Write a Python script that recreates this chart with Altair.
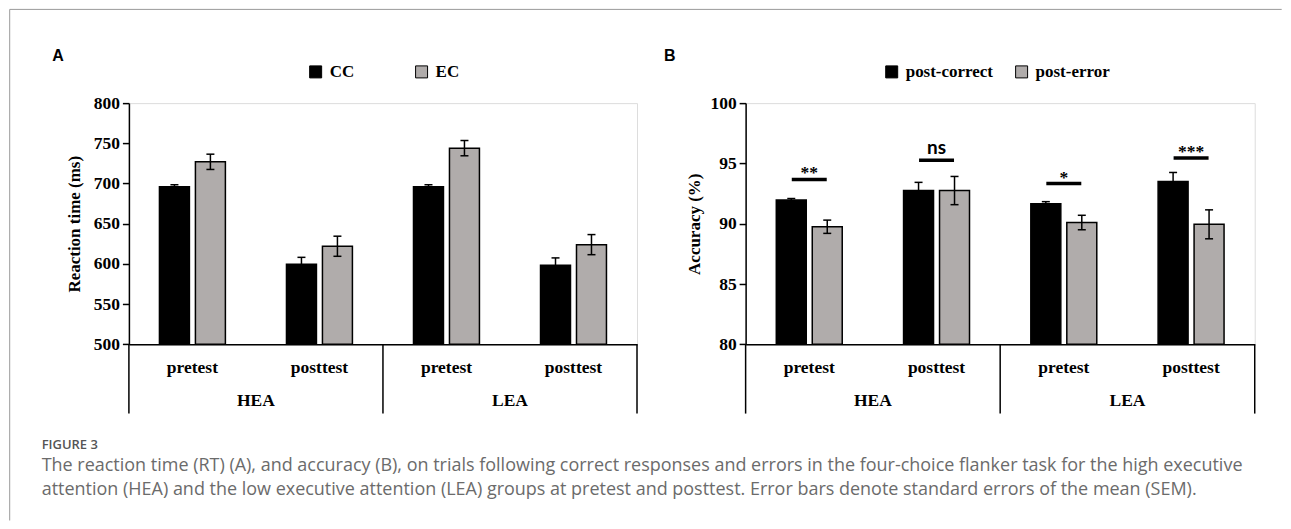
import altair as alt
import pandas as pd

# ---------------- data ----------------
categories = ["HEA pretest", "HEA posttest", "LEA pretest", "LEA posttest"]
groups = ["HEA", "LEA"]
group_first = ["HEA pretest", "LEA pretest"]

rt_series = ["CC", "EC"]
rt_cc = [696, 599.5, 696, 598.5]
rt_cc_se = [2.5, 8.7, 2.5, 9.0]
rt_ec = [727, 622, 744, 624]
rt_ec_se = [9.5, 12.5, 9.5, 12.5]
rt_ticks = [500, 550, 600, 650, 700, 750, 800]

acc_series = ["post-correct", "post-error"]
acc_pc = [91.96, 92.75, 91.65, 93.5]
acc_pc_se = [0.13, 0.68, 0.18, 0.75]
acc_pe = [89.75, 92.75, 90.1, 89.95]
acc_pe_se = [0.55, 1.17, 0.6, 1.2]
acc_ticks = [80, 85, 90, 95, 100]

sig_text = ["**", "ns", "*", "***"]
sig_level = [93.67, 95.27, 93.33, 95.46]

caption_head = "FIGURE 3"
caption_lines = [
    "The reaction time (RT) (A), and accuracy (B), on trials following correct responses and errors in the four-choice flanker task for the high executive",
    "attention (HEA) and the low executive attention (LEA) groups at pretest and posttest. Error bars denote standard errors of the mean (SEM).",
]

SERIF = "Liberation Serif"
GRAY = "#b0acab"
H = 241.4
BAR_W = 30
SHIFT = [-18, 18]   # pixel shift of the two series inside each category band


def long_df(series, a, a_se, b, b_se):
    rows = []
    for vals, ses, s in ((a, a_se, series[0]), (b, b_se, series[1])):
        for c, v, e in zip(categories, vals, ses):
            rows.append({"category": c, "series": s, "value": v, "lo": v - e, "hi": v + e})
    return pd.DataFrame(rows)


def xenc(band=None):
    kw = {}
    if band is not None:
        kw["bandPosition"] = band
    return alt.X(
        "category:N",
        sort=categories,
        scale=alt.Scale(domain=categories, paddingInner=0, paddingOuter=0),
        axis=alt.Axis(
            title=None, ticks=False, labelAngle=0,
            labelExpr="split(datum.label, ' ')[1]",
            labelFont=SERIF, labelFontSize=17.5, labelFontWeight="bold",
            labelColor="black", labelPadding=28, labelBaseline="alphabetic",
            domainColor="black", domainWidth=1.5,
        ),
        **kw,
    )


def letter_mark(letter, dx):
    return alt.Chart(pd.DataFrame({"t": [letter]})).mark_text(
        font="Liberation Sans", fontSize=16, fontWeight="bold", color="black",
        align="center", baseline="alphabetic",
    ).encode(x=alt.value(dx), y=alt.value(59.7 - 102.3), text="t:N")


def panel(df, series, ydomain, yticks, ytitle, letter, width, letter_x,
          legend_x, legend_pad, title_x, extra=None):
    yscale = alt.Scale(domain=ydomain, nice=False, zero=False)
    yaxis = alt.Axis(
        values=yticks, title=ytitle, grid=False,
        labelFont=SERIF, labelFontSize=17.5, labelFontWeight="bold", labelColor="black",
        labelPadding=3, tickSize=6.5, tickColor="black", tickWidth=1.5,
        domainColor="black", domainWidth=1.5,
        titleFont=SERIF, titleFontSize=17, titleFontWeight="bold", titleColor="black",
        titleX=title_x, titleY=H / 2, titleAngle=270, titleAlign="center",
        titleBaseline="middle",
    )
    color = alt.Color(
        "series:N", sort=series,
        scale=alt.Scale(domain=series, range=["black", GRAY]),
        legend=alt.Legend(
            orient="none", legendX=legend_x, legendY=-40, direction="horizontal",
            title=None, symbolType="square", symbolSize=144, symbolOpacity=1,
            symbolStrokeColor="black", symbolStrokeWidth=1,
            labelFont=SERIF, labelFontSize=17, labelFontWeight="bold",
            labelColor="black", labelOffset=5.5, columnPadding=legend_pad,
        ),
    )
    layers = []
    for s, sh in zip(series, SHIFT):
        base = alt.Chart(df).transform_filter(alt.datum.series == s)
        layers.append(
            base.mark_bar(width=BAR_W, xOffset=sh, stroke="black", strokeWidth=1.5, opacity=1).encode(
                x=xenc(), y=alt.Y("value:Q", scale=yscale, axis=yaxis),
                y2=alt.datum(ydomain[0]), color=color,
            )
        )
        layers.append(
            base.mark_rule(xOffset=sh, color="black", strokeWidth=1.5).encode(
                x=xenc(), y=alt.Y("lo:Q", scale=yscale), y2="hi:Q"
            )
        )
        for fld in ("lo", "hi"):
            layers.append(
                base.mark_tick(xOffset=sh, color="black", thickness=1.5, size=8, opacity=1).encode(
                    x=xenc(), y=alt.Y(f"{fld}:Q", scale=yscale)
                )
            )
    div_left = alt.Chart(pd.DataFrame({"category": group_first})).mark_rule(
        color="black", strokeWidth=1.5
    ).encode(x=xenc(0), y=alt.value(H), y2=alt.value(H + 69.3))
    div_right = alt.Chart(pd.DataFrame({"category": [categories[-1]]})).mark_rule(
        color="black", strokeWidth=1.5
    ).encode(x=xenc(1), y=alt.value(H), y2=alt.value(H + 69.3))
    grp = alt.Chart(pd.DataFrame({"category": group_first, "group": groups})).mark_text(
        font=SERIF, fontSize=17.5, fontWeight="bold", color="black",
        baseline="alphabetic", align="center",
    ).encode(x=xenc(1), y=alt.value(H + 61.6), text="group:N")
    layers += [div_left, div_right, grp, letter_mark(letter, letter_x)]
    if extra:
        layers += extra
    return alt.layer(*layers).properties(width=width, height=H)


rt_df = long_df(rt_series, rt_cc, rt_cc_se, rt_ec, rt_ec_se)
acc_df = long_df(acc_series, acc_pc, acc_pc_se, acc_pe, acc_pe_se)

# frame + caption (drawn in panel A's coordinate space)
one = pd.DataFrame({"k": [0]})
frame_top = alt.Chart(one).mark_rule(color="#9a9a9a", strokeWidth=1).encode(
    x=alt.value(-119.3), x2=alt.value(1283 - 129.3), y=alt.value(-93.8)
)
frame_left = alt.Chart(one).mark_rule(color="#9a9a9a", strokeWidth=1).encode(
    x=alt.value(-119.3), y=alt.value(-93.8), y2=alt.value(520 - 102.3)
)
cap_head = alt.Chart(pd.DataFrame({"t": [caption_head]})).mark_text(
    font="Open Sans", fontSize=13, fontWeight=600, color="#555555",
    align="left", baseline="alphabetic",
).encode(x=alt.value(42 - 129.3), y=alt.value(448 - 102.3), text="t:N")
cap_body = alt.Chart(pd.DataFrame({"t": ["\n".join(caption_lines)]})).mark_text(
    font="Open Sans", fontSize=18, color="#6b6b6b", align="left",
    baseline="alphabetic", lineBreak="\n", lineHeight=24,
).encode(x=alt.value(42 - 129.3), y=alt.value(470 - 102.3), text="t:N")

panel_a = panel(
    rt_df, rt_series, [500, 800], rt_ticks, "Reaction time (ms)", "A", 508.5, 58.3 - 129.3,
    178.4, 58, -54.3, extra=[frame_top, frame_left, cap_head, cap_body],
)

sig_df = pd.DataFrame({"category": categories, "label": sig_text, "level": sig_level})
acc_scale = alt.Scale(domain=[80, 100], nice=False, zero=False)
sig_line = alt.Chart(sig_df).mark_tick(color="black", thickness=3.5, size=35, opacity=1).encode(
    x=xenc(), y=alt.Y("level:Q", scale=acc_scale)
)
sig_star = alt.Chart(sig_df).transform_filter("datum.label != 'ns'").mark_text(
    font=SERIF, fontSize=17.5, fontWeight="bold", color="black",
    baseline="alphabetic", dy=-1,
).encode(x=xenc(), y=alt.Y("level:Q", scale=acc_scale), text="label:N")
sig_ns = alt.Chart(sig_df).transform_filter("datum.label == 'ns'").mark_text(
    font="Lato", fontSize=19, fontWeight="bold", color="black",
    baseline="alphabetic", dy=-6.6,
).encode(x=xenc(), y=alt.Y("level:Q", scale=acc_scale), text="label:N")

panel_b = panel(
    acc_df, acc_series, [80, 100], acc_ticks, "Accuracy (%)", "B", 509.5, 670 - 746,
    137.7, 20, -51, extra=[sig_line, sig_star, sig_ns],
)

chart = alt.hconcat(panel_a, panel_b, spacing=108.2, bounds="flush").resolve_scale(
    color="independent", y="independent"
).resolve_legend(color="independent").properties(padding=0).configure_view(
    stroke=None
).configure(background="white")

chart.save("out.html", embed_options={"renderer": "svg", "actions": False})
